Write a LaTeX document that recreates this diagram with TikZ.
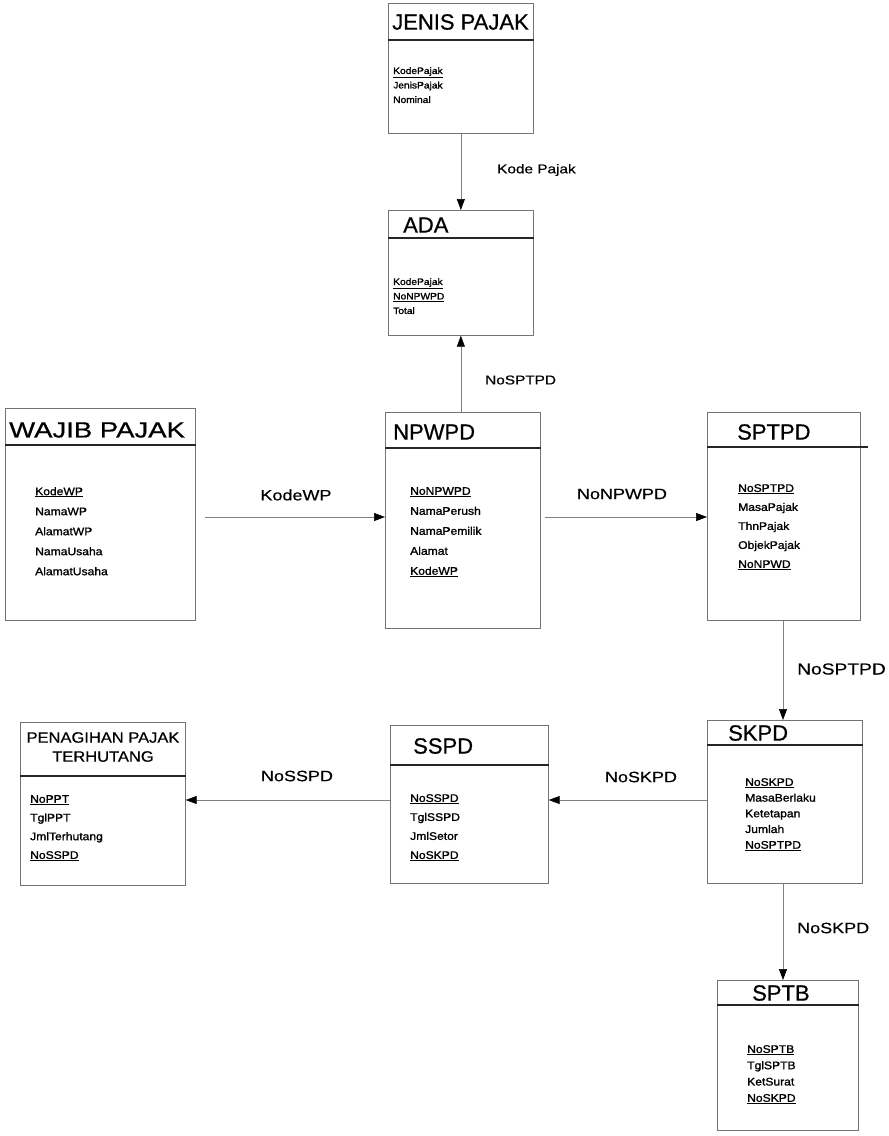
\documentclass[tikz,border=0pt]{standalone}
\usepackage{fontspec}
\usetikzlibrary{arrows.meta}
\setmainfont{Liberation Sans}
\newfontfamily\titlef[FakeBold=0.6]{Liberation Sans}
\newfontfamily\attrf[FakeStretch=1.1,FakeBold=1.3]{Liberation Sans}
\newfontfamily\labelf[FakeStretch=1.2,FakeBold=0.4]{Liberation Sans}
\tikzset{
  entity/.style={draw=black!55, line width=0.7pt, fill=white, anchor=north west, inner sep=0},
  hdr/.style={draw=black!85, line width=1.5pt},
  ttl/.style={anchor=west, inner sep=0, font=\titlef\fontsize{22}{24}\selectfont},
  attr/.style={anchor=north west, inner sep=0, align=left, font=\attrf\fontsize{11}{#1}\selectfont},
  attrsmall/.style={anchor=north west, inner sep=0, align=left, font=\attrf\fontsize{9.3}{#1}\selectfont},
  conn/.style={draw=black!50, line width=0.6pt, -{Triangle[length=11pt,width=8pt,color=black]}},
  rel/.style={inner sep=0, font=\labelf\fontsize{15}{17}\selectfont},
  relsmall/.style={inner sep=0, font=\labelf\fontsize{12.8}{15}\selectfont},
}
\begin{document}
\begin{tikzpicture}[x=1pt, y=-1pt]
\fill[white] (0,0) rectangle (889,1136);
\useasboundingbox (0,0) rectangle (889,1136);

% ---- JENIS PAJAK
\node[entity, minimum width=145, minimum height=130] (jp) at (388,3) {};
\draw[hdr] (jp.west |- 0,40) -- (jp.east |- 0,40);
\node[ttl, anchor=center] (jpT) at (460.5,22) {JENIS PAJAK};
\node[attrsmall=14.5] (jpA) at (393,67) {\underline{KodePajak}\\JenisPajak\\Nominal};

% ---- ADA
\node[entity, minimum width=145, minimum height=125] (ada) at (388,210) {};
\draw[hdr] (ada.west |- 0,238) -- (ada.east |- 0,238);
\node[ttl] (adaT) at (403,225) {ADA};
\node[attrsmall=14.5] (adaA) at (393,278) {\underline{KodePajak}\\\underline{NoNPWPD}\\Total};

% ---- WAJIB PAJAK
\node[entity, minimum width=190, minimum height=212] (wp) at (5,408) {};
\draw[hdr] (wp.west |- 0,445) -- (wp.east |- 0,445);
\node[ttl] (wpT) at (9,430) {\scalebox{1.25}[1]{WAJIB PAJAK}};
\node[attr=20] (wpA) at (35,487) {\underline{KodeWP}\\NamaWP\\AlamatWP\\NamaUsaha\\AlamatUsaha};

% ---- NPWPD
\node[entity, minimum width=155, minimum height=216] (np) at (385,412) {};
\draw[hdr] (np.west |- 0,448) -- (np.east |- 0,448);
\node[ttl] (npT) at (393,432) {NPWPD};
\node[attr=20] (npA) at (410,487) {\underline{NoNPWPD}\\NamaPerush\\NamaPemilik\\Alamat\\\underline{KodeWP}};

% ---- SPTPD
\node[entity, minimum width=153, minimum height=208] (sp) at (707,412) {};
\draw[hdr] (sp.west |- 0,447) -- (868,447);
\node[ttl] (spT) at (737,432) {SPTPD};
\node[attr=19] (spA) at (738,484) {\underline{NoSPTPD}\\MasaPajak\\ThnPajak\\ObjekPajak\\\underline{NoNPWD}};

% ---- SKPD
\node[entity, minimum width=155, minimum height=163] (sk) at (707,720) {};
\draw[hdr] (sk.west |- 0,745) -- (sk.east |- 0,745);
\node[ttl] (skT) at (728,733) {SKPD};
\node[attr=15.7] (skA) at (745,778) {\underline{NoSKPD}\\MasaBerlaku\\Ketetapan\\Jumlah\\\underline{NoSPTPD}};

% ---- SSPD
\node[entity, minimum width=158, minimum height=158] (ss) at (390,725) {};
\draw[hdr] (ss.west |- 0,765) -- (ss.east |- 0,765);
\node[ttl] (ssT) at (413,746) {SSPD};
\node[attr=19] (ssA) at (410,794) {\underline{NoSSPD}\\TglSSPD\\JmlSetor\\\underline{NoSKPD}};

% ---- PENAGIHAN PAJAK TERHUTANG
\node[entity, minimum width=165, minimum height=163] (pen) at (20,722) {};
\draw[hdr] (pen.west |- 0,776) -- (pen.east |- 0,776);
\node[ttl, anchor=center, align=center, font=\titlef\fontsize{15}{19}\selectfont] (penT) at (103,747) {\scalebox{1.1}[1]{PENAGIHAN PAJAK}\\\scalebox{1.1}[1]{TERHUTANG}};
\node[attr=18.7] (penA) at (30,795) {\underline{NoPPT}\\TglPPT\\JmlTerhutang\\\underline{NoSSPD}};

% ---- SPTB
\node[entity, minimum width=141, minimum height=150] (sb) at (717,980) {};
\draw[hdr] (sb.west |- 0,1005) -- (sb.east |- 0,1005);
\node[ttl] (sbT) at (752,993) {SPTB};
\node[attr=16.3] (sbA) at (747,1045) {\underline{NoSPTB}\\TglSPTB\\KetSurat\\\underline{NoSKPD}};

% ---- relationships
\draw[conn] (jp.south) -- (ada.north);
\node[relsmall, anchor=west] (l1) at (497,170) {Kode Pajak};

\draw[conn] (np.north -| ada.south) -- (ada.south);
\node[relsmall, anchor=west] (l2) at (485,380) {NoSPTPD};

\coordinate (wpOut) at (205,517);
\draw[conn] (wpOut) -- (wpOut -| np.west);
\node[rel] (l3) at (296,495) {KodeWP};

\coordinate (npOut) at (545,517);
\draw[conn] (npOut) -- (npOut -| sp.west);
\node[rel] (l4) at (622,494) {NoNPWPD};

\coordinate (spOut) at (783,620);
\draw[conn] (spOut) -- (spOut |- sk.north);
\node[rel, anchor=west, font=\labelf\fontsize{16}{18}\selectfont] (l5) at (797,669) {NoSPTPD};

\coordinate (skOut) at (707,800);
\draw[conn] (skOut) -- (skOut -| ss.east);
\node[rel] (l6) at (641,777) {NoSKPD};

\coordinate (ssOut) at (390,800);
\draw[conn] (ssOut) -- (ssOut -| pen.east);
\node[rel] (l7) at (297,776) {NoSSPD};

\coordinate (skDown) at (783,883);
\draw[conn] (skDown) -- (skDown |- sb.north);
\node[rel, anchor=west] (l8) at (797,928) {NoSKPD};
\end{tikzpicture}
\end{document}
